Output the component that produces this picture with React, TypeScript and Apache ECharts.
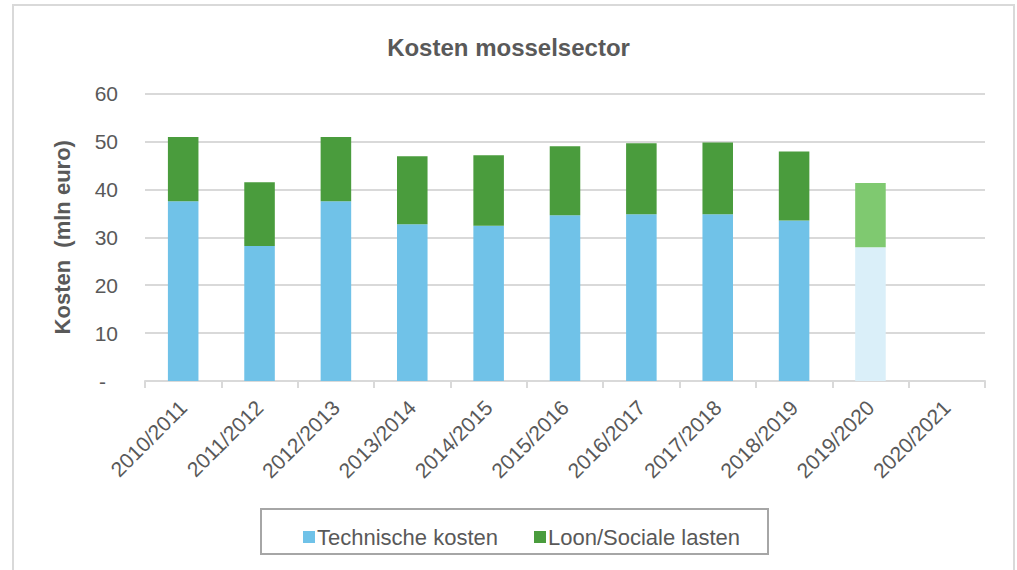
import React, { useEffect, useRef } from "react";
import * as echarts from "echarts";

const categories = [
  "2010/2011", "2011/2012", "2012/2013", "2013/2014", "2014/2015", "2015/2016",
  "2016/2017", "2017/2018", "2018/2019", "2019/2020", "2020/2021",
];
const technischeKosten = [37.5, 28.2, 37.5, 32.7, 32.4, 34.6, 34.8, 34.8, 33.5, 27.9, null];
const loonSocialeLasten = [13.4, 13.3, 13.4, 14.2, 14.7, 14.4, 14.8, 15.0, 14.4, 13.4, null];
const provisionalIndex = 9;

const FONT = "'Liberation Sans', Arial, sans-serif";
const TEXT = "#595959";
const BLUE = "#70c2e8";
const GREEN = "#4a9c3d";
const LIGHT_BLUE = "#daeff9";
const LIGHT_GREEN = "#7fc970";

export default function App() {
  const ref = useRef<HTMLDivElement>(null);
  useEffect(() => {
    document.body.style.margin = "0";
    const chart = echarts.init(ref.current!, null, { renderer: "svg" });
    const mk = (vals: (number | null)[], light: string) =>
      vals.map((v, i) => (i === provisionalIndex ? { value: v, itemStyle: { color: light } } : v));
    chart.setOption({
      animation: false,
      backgroundColor: "#ffffff",
      textStyle: { fontFamily: FONT },
      title: {
        text: "Kosten mosselsector",
        left: "center",
        top: 30,
        textStyle: { fontFamily: FONT, fontSize: 24, fontWeight: "bold", color: TEXT },
      },
      graphic: [
        { type: "rect", shape: { x: 13, y: 5, width: 1001, height: 580 }, style: { fill: "none", stroke: "#d9d9d9", lineWidth: 2 }, z: -1 },
        { type: "rect", shape: { x: 261, y: 509, width: 507, height: 45 }, style: { fill: "none", stroke: "#a6a6a6", lineWidth: 2 } },
      ],
      legend: {
        left: 298,
        top: 521,
        itemWidth: 12,
        itemHeight: 12,
        itemGap: 36,
        icon: "rect",
        textStyle: { fontFamily: FONT, fontSize: 22, color: TEXT, padding: [0, 0, 0, -3] },
        data: ["Technische kosten", "Loon/Sociale lasten"],
      },
      grid: { left: 145, right: 32, top: 93.5, bottom: 189 },
      xAxis: {
        type: "category",
        data: categories,
        axisLine: { lineStyle: { color: "#d9d9d9", width: 2 } },
        axisTick: { show: true, length: 7, lineStyle: { color: "#d9d9d9", width: 2 } },
        axisLabel: { rotate: 45, color: TEXT, fontSize: 21, fontFamily: FONT, margin: 23, interval: 0 },
      },
      yAxis: {
        type: "value",
        min: 0,
        max: 60,
        interval: 10,
        name: "Kosten  (mln euro)",
        nameLocation: "middle",
        nameGap: 72,
        nameTextStyle: { fontFamily: FONT, fontSize: 22, fontWeight: "bold", color: TEXT },
        axisLine: { show: false },
        axisTick: { show: false },
        splitLine: { lineStyle: { color: "#d9d9d9", width: 2 } },
        axisLabel: {
          color: TEXT,
          fontSize: 21,
          fontFamily: FONT,
          margin: 27,
          formatter: (v: number) => (v === 0 ? "{d|-}" : String(v)),
          rich: { d: { color: TEXT, fontSize: 21, fontFamily: FONT, padding: [0, 12, 0, 0] } },
        },
      },
      series: [
        {
          name: "Technische kosten",
          type: "bar",
          stack: "k",
          barWidth: "40%",
          itemStyle: { color: BLUE },
          data: mk(technischeKosten, LIGHT_BLUE),
        },
        {
          name: "Loon/Sociale lasten",
          type: "bar",
          stack: "k",
          barWidth: "40%",
          itemStyle: { color: GREEN },
          data: mk(loonSocialeLasten, LIGHT_GREEN),
        },
      ],
    });
    return () => chart.dispose();
  }, []);
  return <div ref={ref} style={{ width: 1017, height: 570 }} />;
}
